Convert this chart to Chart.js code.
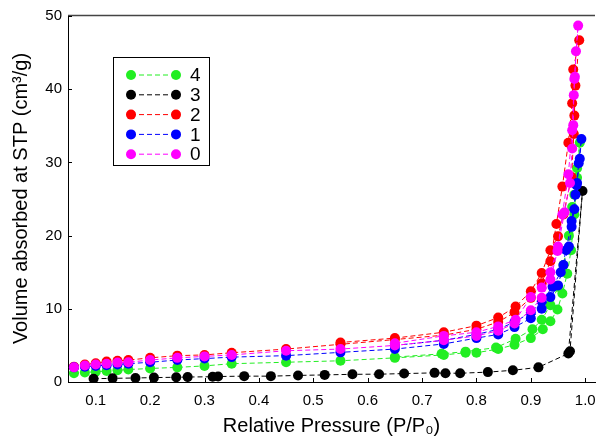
<!DOCTYPE html>
<html>
<head>
<meta charset="utf-8">
<script src="https://cdn.jsdelivr.net/npm/chart.js@4.4.0/dist/chart.umd.min.js"></script>
<style>
html, body { margin: 0; padding: 0; background: #fff; }
</style>
</head>
<body>
<canvas id="isoChart" width="600" height="446"></canvas>
<script>
// relative pressure / volume, adsorption then desorption
const p0 = [0.06,0.08,0.10,0.12,0.14,0.16,0.20,0.25,0.30,0.35,0.45,0.55,0.65,0.74,0.80,0.84,0.87,0.90,0.92,0.936,0.949,0.958,0.969,0.976,0.980,0.987,
            0.983,0.981,0.979,0.978,0.976,0.972,0.962,0.950,0.936,0.920,0.900,0.872,0.840,0.800,0.740,0.650];
const v0 = [2.0,2.25,2.4,2.5,2.65,2.7,3.0,3.3,3.5,3.7,4.27,4.5,5.0,5.7,6.3,7.0,8.0,9.8,11.5,14.0,17.9,22.9,28.4,34.4,41.4,48.7,
            45.2,41.7,39.2,35.1,31.9,27.2,23.2,18.5,15.0,12.9,11.6,8.5,7.6,6.8,6.3,5.3];

const p1 = [0.06,0.08,0.10,0.12,0.14,0.16,0.20,0.25,0.30,0.35,0.45,0.55,0.65,0.74,0.80,0.84,0.87,0.90,0.92,0.936,0.950,0.960,0.970,0.975,0.980,0.985,0.990,0.993,
            0.988,0.984,0.982,0.975,0.965,0.955,0.940,0.920,0.900,0.870,0.840,0.800,0.740,0.650];
const v1 = [2.0,2.1,2.2,2.3,2.4,2.5,2.7,3.0,3.2,3.4,3.6,4.05,4.5,5.2,6.0,6.5,7.5,8.7,10.0,11.6,13.2,16.0,18.5,21.2,23.6,27.2,30.5,33.2,
            29.9,26.9,25.6,22.0,18.0,15.0,13.0,11.0,9.5,8.2,7.2,6.5,5.7,5.0];

const p2 = [0.06,0.08,0.10,0.12,0.14,0.16,0.20,0.25,0.30,0.35,0.45,0.55,0.65,0.74,0.80,0.84,0.87,0.90,0.92,0.936,0.947,0.958,0.969,0.976,0.978,0.989,
            0.982,0.980,0.979,0.975,0.960,0.950,0.936,0.920,0.900,0.872,0.840,0.800,0.740,0.650,0.550];
const v2 = [2.1,2.4,2.55,2.8,2.9,3.0,3.3,3.6,3.7,4.0,4.5,5.15,5.8,6.4,7.2,8.2,9.5,11.5,13.5,16.5,21.6,26.7,32.7,38.1,42.7,46.7,
            40.5,36.4,33.9,28.0,22.9,19.9,18.0,14.9,12.4,10.3,8.8,7.7,6.8,6.0,5.4];

const p3 = [0.096,0.131,0.173,0.207,0.248,0.269,0.315,0.325,0.373,0.422,0.472,0.521,0.572,0.621,0.667,0.723,0.743,0.770,0.821,0.867,0.914,0.969,0.995,
            0.972];
const v3 = [0.45,0.5,0.55,0.6,0.65,0.68,0.72,0.75,0.8,0.8,0.9,0.97,1.05,1.07,1.15,1.25,1.2,1.2,1.35,1.6,2.0,3.9,26.1,
            4.2];

const p4 = [0.06,0.08,0.10,0.12,0.14,0.16,0.20,0.25,0.30,0.35,0.45,0.55,0.65,0.74,0.78,0.80,0.84,0.87,0.90,0.922,0.936,0.949,0.958,0.967,0.974,0.980,0.985,0.990,
            0.985,0.980,0.976,0.970,0.960,0.950,0.936,0.920,0.903,0.872,0.836,0.780,0.736,0.650];
const v4 = [1.2,1.3,1.4,1.5,1.6,1.7,1.85,2.0,2.2,2.5,2.7,2.9,3.3,3.7,4.0,4.0,4.5,5.1,6.0,7.2,8.3,9.9,12.1,14.8,18.0,22.9,27.9,32.7,
            29.2,25.6,23.9,20.0,16.0,13.0,10.5,8.5,7.2,5.9,4.7,4.15,3.85,3.4];

const xTicks = [0.1,0.2,0.3,0.4,0.5,0.6,0.7,0.8,0.9,1.0];
const yTicks = [0,10,20,30,40,50];
const legendOrder = ['4','3','2','1','0'];

function pts(px, vy) {
    return px.map((p, i) => ({ x: p, y: vy[i] }));
}

function series(label, px, vy, color) {
    return {
        label: label,
        data: pts(px, vy),
        showLine: true,
        borderColor: color,
        backgroundColor: color,
        borderWidth: 1,
        borderDash: [5, 3],
        pointRadius: 5,
        pointBorderWidth: 0,
        pointHoverRadius: 5,
        tension: 0
    };
}

const colors = { '0': '#ff00ff', '1': '#0000ff', '2': '#ff0000', '3': '#000000', '4': '#22ee22' };
const fontName = '"Liberation Sans", Arial, sans-serif';

// the box, inward ticks and the legend
const framePlugin = {
    id: 'framePlugin',
    afterDraw(chart) {
        const ctx = chart.ctx;
        const a = chart.chartArea;
        const xs = chart.scales.x;
        const ys = chart.scales.y;
        ctx.save();
        ctx.strokeStyle = '#444';
        ctx.lineWidth = 1.5;
        ctx.beginPath();
        ctx.moveTo(a.left, a.top + 0.5);
        ctx.lineTo(a.right, a.top + 0.5);
        ctx.stroke();
        ctx.strokeStyle = '#000';
        ctx.lineWidth = 1;
        ctx.beginPath();
        xTicks.forEach(t => {
            const px = Math.round(xs.getPixelForValue(t)) + 0.5;
            ctx.moveTo(px, a.bottom);
            ctx.lineTo(px, a.bottom - 4);
        });
        yTicks.forEach(t => {
            const py = Math.round(ys.getPixelForValue(t)) + 0.5;
            ctx.moveTo(a.left, py);
            ctx.lineTo(a.left + 4, py);
        });
        ctx.stroke();

        // legend
        ctx.strokeStyle = '#000';
        ctx.lineWidth = 1;
        ctx.strokeRect(113.5, 57.5, 96, 108);
        ctx.font = '19px ' + fontName;
        ctx.textBaseline = 'middle';
        legendOrder.forEach((lab, i) => {
            const yy = 75 + i * 19.8;
            const c = colors[lab];
            ctx.strokeStyle = c;
            ctx.setLineDash([5, 3]);
            ctx.beginPath();
            ctx.moveTo(131, yy);
            ctx.lineTo(176, yy);
            ctx.stroke();
            ctx.setLineDash([]);
            ctx.fillStyle = c;
            [131, 176].forEach(cx => {
                ctx.beginPath();
                ctx.arc(cx, yy, 5, 0, Math.PI * 2);
                ctx.fill();
            });
            ctx.fillStyle = '#000';
            ctx.fillText(lab, 190, yy + 1);
        });
        ctx.restore();
    }
};

const ctx = document.getElementById('isoChart').getContext('2d');

const isoChart = new Chart(ctx, {
    type: 'scatter',
    data: {
        datasets: [
            series('0', p0, v0, colors['0']),
            series('1', p1, v1, colors['1']),
            series('2', p2, v2, colors['2']),
            series('3', p3, v3, colors['3']),
            series('4', p4, v4, colors['4'])
        ]
    },
    options: {
        responsive: false,
        animation: false,
        layout: { padding: { left: 0, top: 6, right: 0, bottom: 0 } },
        scales: {
            x: {
                type: 'linear',
                min: 0.049,
                max: 1.018,
                afterBuildTicks: s => { s.ticks = xTicks.map(v => ({ value: v })); },
                afterFit: s => { s.height = 64; s.paddingRight = 0; },
                grid: { display: false, drawTicks: false },
                border: { display: true, color: '#000', width: 1 },
                ticks: {
                    padding: 10,
                    color: '#000',
                    font: { family: fontName, size: 15 },
                    callback: v => v.toFixed(1)
                },
                title: {
                    display: true,
                    text: 'Relative Pressure (P/P\u2080)',
                    color: '#000',
                    font: { family: fontName, size: 20 },
                    padding: { top: 4, bottom: 8 }
                }
            },
            y: {
                type: 'linear',
                min: 0,
                max: 50.15,
                afterBuildTicks: s => { s.ticks = yTicks.map(v => ({ value: v })); },
                afterFit: s => { s.width = 68; },
                grid: { display: false, drawTicks: false },
                border: { display: true, color: '#000', width: 1 },
                ticks: {
                    padding: 6,
                    color: '#000',
                    font: { family: fontName, size: 15 }
                },
                title: {
                    display: true,
                    text: 'Volume absorbed at STP (cm\u00b3/g)',
                    color: '#000',
                    font: { family: fontName, size: 20 },
                    padding: { top: 9, bottom: 0 }
                }
            }
        },
        plugins: {
            legend: { display: false },
            tooltip: { enabled: false }
        }
    },
    plugins: [framePlugin]
});
</script>
</body>
</html>
